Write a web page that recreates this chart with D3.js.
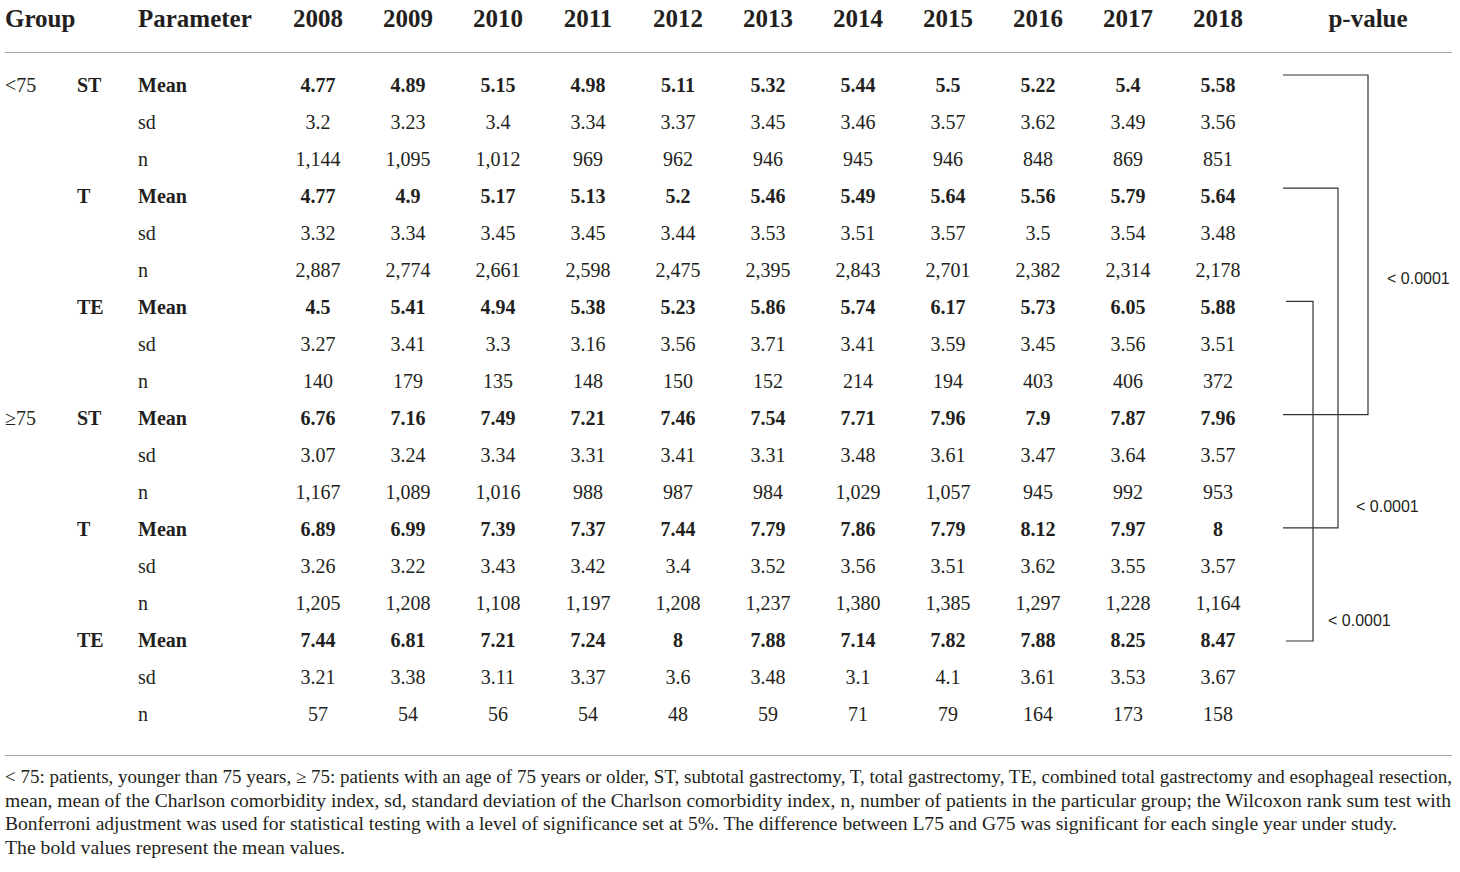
<!DOCTYPE html>
<html>
<head>
<meta charset="utf-8">
<script src="https://cdn.jsdelivr.net/npm/d3@7"></script>
<style>
  html, body { margin: 0; padding: 0; background: #fff; }
  svg { display: block; }
</style>
</head>
<body>
<svg id="chart" width="1460" height="872"></svg>
<script>
// ---------------- DATA ----------------
const years = [2008, 2009, 2010, 2011, 2012, 2013, 2014, 2015, 2016, 2017, 2018];
const ageGroups = ["<75", "\u226575"];
const procedures = ["ST", "T", "TE"];
const parameters = ["Mean", "sd", "n"];

const ltST_mean = [4.77, 4.89, 5.15, 4.98, 5.11, 5.32, 5.44, 5.5, 5.22, 5.4, 5.58];
const ltST_sd   = [3.2, 3.23, 3.4, 3.34, 3.37, 3.45, 3.46, 3.57, 3.62, 3.49, 3.56];
const ltST_n    = [1144, 1095, 1012, 969, 962, 946, 945, 946, 848, 869, 851];
const ltT_mean  = [4.77, 4.9, 5.17, 5.13, 5.2, 5.46, 5.49, 5.64, 5.56, 5.79, 5.64];
const ltT_sd    = [3.32, 3.34, 3.45, 3.45, 3.44, 3.53, 3.51, 3.57, 3.5, 3.54, 3.48];
const ltT_n     = [2887, 2774, 2661, 2598, 2475, 2395, 2843, 2701, 2382, 2314, 2178];
const ltTE_mean = [4.5, 5.41, 4.94, 5.38, 5.23, 5.86, 5.74, 6.17, 5.73, 6.05, 5.88];
const ltTE_sd   = [3.27, 3.41, 3.3, 3.16, 3.56, 3.71, 3.41, 3.59, 3.45, 3.56, 3.51];
const ltTE_n    = [140, 179, 135, 148, 150, 152, 214, 194, 403, 406, 372];
const geST_mean = [6.76, 7.16, 7.49, 7.21, 7.46, 7.54, 7.71, 7.96, 7.9, 7.87, 7.96];
const geST_sd   = [3.07, 3.24, 3.34, 3.31, 3.41, 3.31, 3.48, 3.61, 3.47, 3.64, 3.57];
const geST_n    = [1167, 1089, 1016, 988, 987, 984, 1029, 1057, 945, 992, 953];
const geT_mean  = [6.89, 6.99, 7.39, 7.37, 7.44, 7.79, 7.86, 7.79, 8.12, 7.97, 8];
const geT_sd    = [3.26, 3.22, 3.43, 3.42, 3.4, 3.52, 3.56, 3.51, 3.62, 3.55, 3.57];
const geT_n     = [1205, 1208, 1108, 1197, 1208, 1237, 1380, 1385, 1297, 1228, 1164];
const geTE_mean = [7.44, 6.81, 7.21, 7.24, 8, 7.88, 7.14, 7.82, 7.88, 8.25, 8.47];
const geTE_sd   = [3.21, 3.38, 3.11, 3.37, 3.6, 3.48, 3.1, 4.1, 3.61, 3.53, 3.67];
const geTE_n    = [57, 54, 56, 54, 48, 59, 71, 79, 164, 173, 158];

// comparison brackets: [from row, to row], p-value
const bracketRows = [[0, 9], [3, 12], [6, 15]];
const pValues = ["< 0.0001", "< 0.0001", "< 0.0001"];

const footnoteLines = [
  "< 75: patients, younger than 75 years, \u2265 75: patients with an age of 75 years or older, ST, subtotal gastrectomy, T, total gastrectomy, TE, combined total gastrectomy and esophageal resection,",
  "mean, mean of the Charlson comorbidity index, sd, standard deviation of the Charlson comorbidity index, n, number of patients in the particular group; the Wilcoxon rank sum test with",
  "Bonferroni adjustment was used for statistical testing with a level of significance set at 5%. The difference between L75 and G75 was significant for each single year under study.",
  "The bold values represent the mean values."
];

// ---------------- BUILD ROWS ----------------
const blocks = [
  [ltST_mean, ltST_sd, ltST_n], [ltT_mean, ltT_sd, ltT_n], [ltTE_mean, ltTE_sd, ltTE_n],
  [geST_mean, geST_sd, geST_n], [geT_mean, geT_sd, geT_n], [geTE_mean, geTE_sd, geTE_n]
];
const rows = [];
blocks.forEach((b, bi) => {
  b.forEach((vals, pi) => {
    rows.push({
      group: (bi % 3 === 0 && pi === 0) ? ageGroups[Math.floor(bi / 3)] : "",
      proc: pi === 0 ? procedures[bi % 3] : "",
      param: parameters[pi],
      bold: pi === 0,
      isN: pi === 2,
      values: vals
    });
  });
});

// ---------------- DRAW ----------------
const svg = d3.select("#chart");
const serif = "'Liberation Serif', 'DejaVu Serif', serif";
const sans = "'Liberation Sans', Arial, sans-serif";
const ink = "#231f20";
const fmtN = d3.format(",");

const x = d3.scalePoint().domain(years).range([318, 1218]);
const y = d3.scaleLinear().domain([0, rows.length - 1]).range([85, 714]);
const yb = d3.scaleLinear().domain([0, 15]).range([75, 641]);

svg.append("rect").attr("width", 1460).attr("height", 872).attr("fill", "#fff");

// Header
const hdr = svg.append("g").attr("font-family", serif).attr("font-weight", "bold")
  .attr("font-size", 25).attr("fill", ink);
hdr.append("text").attr("x", 5).attr("y", 27).text("Group");
hdr.append("text").attr("x", 138).attr("y", 27).text("Parameter");
hdr.selectAll("text.yr").data(years).join("text").attr("class", "yr")
  .attr("x", d => x(d)).attr("y", 27).attr("text-anchor", "middle").text(d => d);
hdr.append("text").attr("x", 1368).attr("y", 27).attr("text-anchor", "middle").text("p-value");

// Rules
svg.append("line").attr("x1", 5).attr("x2", 1452).attr("y1", 52.5).attr("y2", 52.5)
  .attr("stroke", "#a6a6a6").attr("stroke-width", 1);
svg.append("line").attr("x1", 5).attr("x2", 1452).attr("y1", 755.5).attr("y2", 755.5)
  .attr("stroke", "#a6a6a6").attr("stroke-width", 1);

// Body rows
const body = svg.append("g").attr("font-family", serif).attr("font-size", 20).attr("fill", ink);
const rowG = body.selectAll("g.row").data(rows).join("g").attr("class", "row")
  .attr("transform", (d, i) => `translate(0,${y(i) + 7})`);
rowG.append("text").attr("x", 5).text(d => d.group);
rowG.append("text").attr("x", 77).attr("font-weight", "bold").text(d => d.proc);
rowG.append("text").attr("x", 138).attr("font-weight", d => d.bold ? "bold" : "normal").text(d => d.param);
rowG.each(function (r) {
  d3.select(this).selectAll("text.v").data(r.values.map((v, j) => ({ v, yr: years[j] })))
    .join("text").attr("class", "v")
    .attr("x", d => x(d.yr)).attr("text-anchor", "middle")
    .attr("font-weight", r.bold ? "bold" : "normal")
    .text(d => r.isN ? fmtN(d.v) : String(d.v));
});

// Brackets
const bracketLayout = [
  { left: 1283, right: 1368, lx: 1387, ly: 284 },
  { left: 1283, right: 1338, lx: 1356, ly: 512 },
  { left: 1286, right: 1313, lx: 1328, ly: 626 }
];
const br = svg.append("g").attr("fill", "none").attr("stroke", "#333").attr("stroke-width", 1.2);
bracketRows.forEach((pair, i) => {
  const L = bracketLayout[i];
  const y0 = yb(pair[0]), y1 = yb(pair[1]);
  br.append("path").attr("d", `M${L.left},${y0}H${L.right}V${y1}H${L.left}`);
});
svg.append("g").attr("font-family", sans).attr("font-size", 16).attr("fill", ink)
  .selectAll("text").data(pValues).join("text")
  .attr("x", (d, i) => bracketLayout[i].lx).attr("y", (d, i) => bracketLayout[i].ly)
  .text(d => d);

// Footnote
const fnWidths = [1447, 1446, 1392, 340];
const fnY = [783, 807, 830, 854];
svg.append("g").attr("font-family", serif).attr("font-size", 18).attr("fill", ink)
  .selectAll("text").data(footnoteLines).join("text")
  .attr("x", 5).attr("y", (d, i) => fnY[i])
  .attr("textLength", (d, i) => fnWidths[i]).attr("lengthAdjust", "spacingAndGlyphs")
  .text(d => d);
</script>
</body>
</html>
